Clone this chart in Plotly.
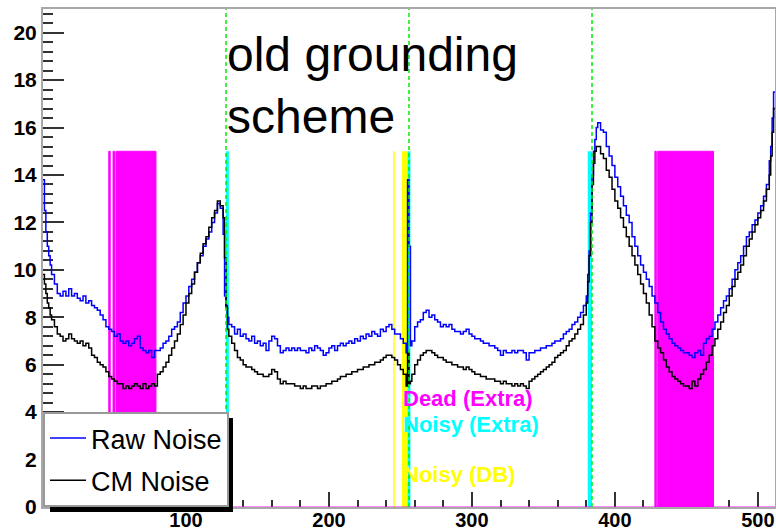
import numpy as np
import plotly.graph_objects as go

# ---------------- data ----------------
n_channels = 512

raw_channels = [0, 1, 2, 3, 4, 5, 6, 8, 10, 12, 14, 16, 18, 20, 22, 24, 26, 28, 30, 32, 34, 36, 38, 40, 42, 44, 46, 48,
                50, 52, 54, 56, 58, 60, 62, 64, 66, 68, 70, 72, 74, 76, 78, 80, 82, 84, 86, 88, 90, 92, 94, 96, 98,
                100, 102, 104, 106, 108, 110, 112, 114, 116, 118, 120, 122, 124, 126, 127, 128, 129, 130, 132, 134,
                136, 138, 140, 142, 144, 146, 148, 150, 152, 154, 156, 158, 160, 162, 164, 166, 168, 170, 172, 174,
                176, 178, 180, 182, 184, 186, 188, 190, 192, 194, 196, 198, 200, 202, 204, 206, 208, 210, 212, 214,
                216, 218, 220, 222, 224, 226, 228, 230, 232, 234, 236, 238, 240, 242, 244, 246, 248, 250, 252, 254,
                255, 256, 257, 258, 260, 262, 264, 266, 268, 270, 272, 274, 276, 278, 280, 282, 284, 286, 288, 290,
                292, 294, 296, 298, 300, 302, 304, 306, 308, 310, 312, 314, 316, 318, 320, 322, 324, 326, 328, 330,
                332, 334, 336, 338, 340, 342, 344, 346, 348, 350, 352, 354, 356, 358, 360, 362, 364, 366, 368, 370,
                372, 374, 376, 378, 380, 381, 382, 383, 384, 385, 386, 387, 388, 390, 392, 394, 396, 398, 400, 402,
                404, 406, 408, 410, 412, 414, 416, 418, 420, 422, 424, 426, 428, 430, 432, 434, 436, 438, 440, 442,
                444, 446, 448, 450, 452, 454, 456, 458, 460, 462, 464, 466, 468, 470, 472, 474, 476, 478, 480, 482,
                484, 486, 488, 490, 492, 494, 496, 498, 500, 502, 504, 506, 508, 509, 510, 511]
raw_noise = [13.8, 12.5, 11.6, 11.0, 10.6, 10.2, 9.8, 9.4, 9.0, 8.9, 9.1, 8.9, 9.2, 8.9, 9.0, 8.8, 8.7, 8.9, 8.6, 8.7,
             8.5, 8.4, 8.3, 8.1, 7.9, 7.6, 7.5, 7.4, 7.2, 7.3, 7.0, 6.9, 7.0, 6.8, 6.9, 7.1, 7.2, 6.7, 6.6, 6.5,
             6.6, 6.3, 6.6, 6.6, 6.7, 6.9, 7.0, 7.2, 7.5, 7.6, 7.8, 8.2, 8.6, 8.9, 9.3, 9.6, 9.9, 10.3, 10.6, 11.0,
             11.3, 11.6, 12.0, 12.4, 12.8, 12.6, 11.5, 8.9, 8.5, 8.0, 7.7, 7.6, 7.3, 7.5, 7.2, 7.3, 7.1, 7.0, 7.2,
             6.9, 7.0, 6.8, 6.9, 6.6, 7.0, 7.2, 7.1, 6.8, 6.5, 6.6, 6.7, 6.6, 6.7, 6.6, 6.7, 6.6, 6.6, 6.5, 6.7,
             6.6, 6.8, 6.7, 6.6, 6.4, 6.5, 6.7, 6.8, 6.6, 6.8, 6.9, 6.8, 6.9, 7.0, 6.9, 7.1, 7.0, 7.2, 7.1, 7.3,
             7.2, 7.4, 7.3, 7.2, 7.5, 7.4, 7.6, 7.7, 7.5, 7.3, 7.3, 7.1, 6.9, 6.5, 13.8, 11.0, 6.8, 7.0, 7.6, 7.8,
             7.9, 8.2, 8.3, 8.0, 8.1, 7.9, 7.8, 7.6, 7.7, 7.6, 7.7, 7.5, 7.4, 7.4, 7.3, 7.4, 7.5, 7.3, 7.2, 7.1,
             7.1, 7.0, 6.9, 6.9, 6.8, 6.8, 6.7, 6.6, 6.4, 6.6, 6.5, 6.5, 6.6, 6.5, 6.6, 6.6, 6.5, 6.2, 6.5, 6.5,
             6.6, 6.6, 6.7, 6.7, 6.8, 6.8, 6.9, 7.0, 7.0, 7.1, 7.3, 7.4, 7.5, 7.7, 7.8, 8.0, 8.2, 8.5, 8.9, 9.8,
             10.8, 12.4, 14.0, 15.0, 15.5, 16.0, 16.2, 15.9, 15.8, 15.2, 14.8, 14.4, 13.9, 13.5, 13.1, 12.7, 12.3,
             12.0, 11.4, 11.0, 10.6, 10.2, 9.9, 9.6, 9.3, 8.9, 8.6, 8.2, 7.8, 7.5, 7.3, 7.1, 6.9, 6.8, 6.7, 6.6,
             6.5, 6.5, 6.4, 6.3, 6.5, 6.6, 6.4, 6.9, 7.1, 7.2, 7.5, 7.8, 8.1, 8.4, 8.7, 8.9, 9.2, 9.6, 10.0, 10.3,
             10.6, 11.0, 11.4, 11.6, 11.9, 12.1, 12.4, 12.7, 13.1, 13.6, 14.6, 15.2, 16.4, 17.5]

cm_channels = raw_channels
cm_noise = [9.8, 9.4, 9.0, 8.6, 8.4, 8.1, 7.9, 7.6, 7.3, 7.2, 7.0, 7.1, 7.3, 7.1, 7.0, 6.9, 7.0, 6.8, 6.9, 6.7, 6.4,
            6.3, 6.1, 6.0, 5.9, 5.7, 5.5, 5.4, 5.3, 5.2, 5.2, 5.0, 5.1, 5.0, 5.1, 5.2, 5.1, 5.0, 5.2, 5.0, 5.1, 5.2,
            5.1, 5.6, 5.7, 5.9, 6.1, 6.4, 6.7, 7.0, 7.3, 7.7, 8.1, 8.6, 9.0, 9.4, 9.9, 10.3, 10.7, 11.1, 11.4, 11.8,
            12.2, 12.5, 12.9, 12.7, 12.2, 10.5, 8.4, 7.5, 7.2, 6.9, 6.6, 6.3, 6.2, 6.0, 5.9, 5.9, 5.8, 5.7, 5.6,
            5.6, 5.5, 5.5, 5.6, 5.8, 5.7, 5.4, 5.2, 5.3, 5.2, 5.2, 5.2, 5.1, 5.1, 5.0, 5.1, 5.0, 5.0, 5.1, 5.1,
            5.0, 5.1, 5.1, 5.2, 5.2, 5.3, 5.3, 5.4, 5.5, 5.5, 5.6, 5.6, 5.7, 5.7, 5.8, 5.8, 5.9, 5.9, 6.0, 6.0,
            6.1, 6.1, 6.2, 6.3, 6.4, 6.4, 6.3, 6.2, 6.0, 5.8, 5.6, 5.1, 6.5, 5.2, 5.3, 5.6, 6.0, 6.2, 6.4, 6.5,
            6.6, 6.6, 6.5, 6.4, 6.3, 6.3, 6.2, 6.1, 6.1, 6.0, 6.0, 5.9, 5.9, 5.8, 5.9, 5.8, 5.7, 5.6, 5.6, 5.5,
            5.5, 5.4, 5.4, 5.4, 5.3, 5.3, 5.2, 5.3, 5.2, 5.2, 5.1, 5.2, 5.1, 5.2, 5.1, 5.0, 5.3, 5.4, 5.5, 5.6,
            5.7, 5.8, 5.9, 6.0, 6.1, 6.3, 6.4, 6.5, 6.6, 6.8, 7.0, 7.1, 7.3, 7.5, 7.7, 8.1, 8.6, 9.5, 10.6, 12.0,
            13.6, 14.5, 15.0, 15.2, 15.2, 14.9, 14.7, 14.2, 13.9, 13.4, 12.9, 12.6, 12.2, 11.8, 11.4, 11.0, 10.6,
            10.2, 9.8, 9.4, 9.0, 8.6, 8.1, 7.6, 7.0, 6.7, 6.5, 6.2, 5.9, 5.7, 5.5, 5.4, 5.3, 5.2, 5.1, 5.1, 5.0,
            5.3, 5.1, 5.4, 5.6, 5.8, 6.1, 6.4, 6.8, 7.1, 7.5, 7.8, 8.2, 8.5, 8.9, 9.3, 9.6, 9.9, 10.2, 10.6, 11.0,
            11.3, 11.6, 11.9, 12.2, 12.5, 12.9, 13.4, 14.0, 14.8, 15.8, 16.8]

dead_extra_channels = [46, 49] + list(range(51, 79)) + [428] + list(range(430, 469))
noisy_extra_channels = [128, 129, 255, 256, 381, 382, 383]
noisy_db_channels = [245, 251, 252, 253, 254]
flag_level = 15
chip_boundaries = [128, 256, 384]

x_tick_values = [100, 200, 300, 400, 500]
y_tick_values = [0, 2, 4, 6, 8, 10, 12, 14, 16, 18, 20]

# ---------------- figure ----------------
FONT = "Liberation Sans, Arial, Helvetica, sans-serif"
fig = go.Figure()


def flag_hist(channels):
    h = np.zeros(n_channels)
    h[channels] = flag_level
    xs = np.arange(n_channels + 1)
    ys = np.append(h, h[-1])
    return xs, ys


for chans, col, lw in [(noisy_db_channels, "#ffff00", 0),
                       (noisy_extra_channels, "#00ffff", 0),
                       (dead_extra_channels, "#ff00ff", 1)]:
    xs, ys = flag_hist(chans)
    fig.add_trace(go.Scatter(x=xs, y=ys, mode="lines", line=dict(shape="hv", color=col, width=lw),
                             fill="tozeroy", fillcolor=col, showlegend=False, hoverinfo="skip"))

fig.add_trace(go.Scatter(x=raw_channels + [n_channels], y=raw_noise + [raw_noise[-1]], mode="lines",
                         line=dict(shape="hv", color="#0000ff", width=1.5), name="Raw Noise",
                         legendgroup="a"))
fig.add_trace(go.Scatter(x=cm_channels + [n_channels], y=cm_noise + [cm_noise[-1]], mode="lines",
                         line=dict(shape="hv", color="#000000", width=1.5), name="CM Noise",
                         legendgroup="b"))

for b in chip_boundaries:
    fig.add_shape(type="line", xref="x", yref="paper", x0=b, x1=b, y0=0, y1=1,
                  line=dict(color="#00ee00", width=1.5, dash="4px,3px"), layer="above")

# legend shadow (pixels converted to paper coordinates)
W, H = 776, 532
L, R, T, B = 43, 1, 9, 25
pw, ph = W - L - R, H - T - B


def px(xp):
    return (xp - L) / pw


def py(yp):
    return (H - B - yp) / ph


fig.add_shape(type="rect", xref="paper", yref="paper", x0=px(50), x1=px(233), y0=py(512), y1=py(418),
              fillcolor="black", line=dict(width=0), layer="above")

fig.add_annotation(x=127.2, y=20.3, xref="x", yref="y", xanchor="left", yanchor="top", align="left",
                   text="old grounding<br>scheme", showarrow=False,
                   font=dict(family=FONT, size=48, color="black"))
for txt, col, yv in [("Dead (Extra)", "#ff00ff", 4.57), ("Noisy (Extra)", "#00ffff", 3.47),
                     ("Noisy (DB)", "#ffff00", 1.37)]:
    fig.add_annotation(x=250.5, y=yv, xref="x", yref="y", xanchor="left", yanchor="middle", text=txt,
                       showarrow=False, font=dict(family=FONT, size=22, color=col, weight="bold"))

fig.update_layout(
    width=W, height=H, margin=dict(l=L, r=R, t=T, b=B, autoexpand=False),
    paper_bgcolor="white", plot_bgcolor="white",
    showlegend=True,
    legend=dict(x=0, y=0, xanchor="left", yanchor="bottom", bgcolor="white", bordercolor="#999999",
                borderwidth=2, font=dict(family=FONT, size=27, color="black"), tracegroupgap=4,
                itemwidth=36, entrywidth=140, entrywidthmode="pixels"),
    xaxis=dict(range=[0, n_channels], showgrid=False, zeroline=False, showline=True, mirror=True,
               linecolor="#a8a8a8", linewidth=2, layer="below traces",
               tickmode="array", tickvals=x_tick_values, ticks="inside", ticklen=15, tickcolor="#333",
               tickwidth=1.5, ticklabelstandoff=-6,
               minor=dict(tickmode="linear", tick0=0, dtick=20, ticks="inside", ticklen=7, tickcolor="#333"),
               tickfont=dict(family=FONT, size=20, color="black", weight="bold")),
    yaxis=dict(range=[0, 21], showgrid=False, zeroline=False, showline=True, mirror=True,
               linecolor="#a8a8a8", linewidth=2, layer="below traces",
               tickmode="array", tickvals=y_tick_values, ticks="inside", ticklen=21, tickcolor="#333",
               tickwidth=1.5,
               minor=dict(tickmode="linear", tick0=0, dtick=0.4, ticks="inside", ticklen=10, tickcolor="#333"),
               tickfont=dict(family=FONT, size=21, color="black", weight="bold")),
)

fig.write_html("out.html")
